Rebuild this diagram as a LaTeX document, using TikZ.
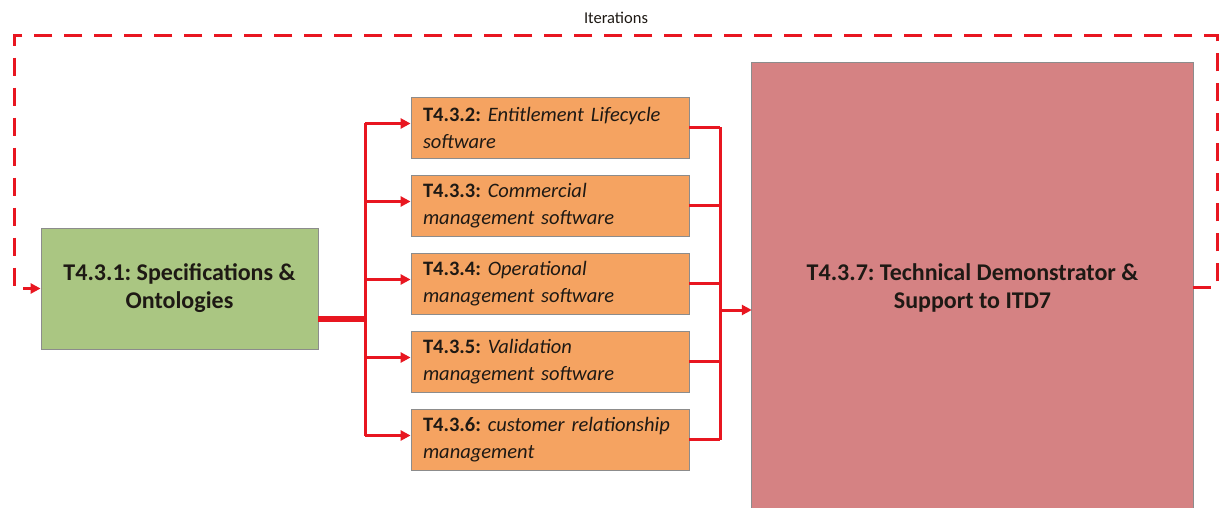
\documentclass[tikz,border=0pt]{standalone}
\usepackage{fontspec}
\setmainfont{Carlito}
\usetikzlibrary{arrows.meta,calc}
\frenchspacing
\definecolor{gfill}{RGB}{170,198,130}
\definecolor{ofill}{RGB}{245,163,97}
\definecolor{rfill}{RGB}{213,130,131}
\definecolor{lred}{RGB}{232,22,32}
\definecolor{bgrey}{RGB}{140,140,140}
\definecolor{txt}{RGB}{30,25,20}
\newcommand\orangefont{\fontsize{20.5}{27}\selectfont\frenchspacing\spaceskip=4.8pt plus 1pt\relax}
\tikzset{
  box/.style={draw=bgrey, line width=0.8pt, inner sep=0pt, text=txt},
  greenbox/.style={box, fill=gfill, minimum width=277pt, minimum height=121pt, align=center,
    font=\fontsize{24}{28}\selectfont\bfseries},
  orangebox/.style={box, fill=ofill, minimum width=278pt, minimum height=61pt, inner xsep=12pt,
    text width=254pt, align=left, font=\orangefont},
  redbox/.style={inner sep=0pt, text=txt, fill=rfill, minimum width=441pt, minimum height=449pt, align=center,
    font=\fontsize{24}{28}\selectfont\bfseries},
  conn/.style={draw=lred, line width=3pt},
  thickconn/.style={draw=lred, line width=6pt},
  arr/.style={conn, -{Triangle[length=10pt,width=10pt]}},
  dashloop/.style={draw=lred, line width=3pt, dash pattern=on 18pt off 12pt},
}
\begin{document}
\begin{tikzpicture}[x=1pt,y=-1pt]
\useasboundingbox (0,0) rectangle (1219,508);
% nodes
\node[greenbox] (g) at (179.5,288.5) {T4.3.1: Specifications \&\\Ontologies};
\node[orangebox] (o1) at (550,127.5) {\textbf{T4.3.2:} \textit{Entitlement Lifecycle}\\\textit{software}};
\node[orangebox] (o2) at (550,205.5) {\textbf{T4.3.3:} \textit{Commercial}\\\textit{management software}};
\node[orangebox] (o3) at (550,283.5) {\textbf{T4.3.4:} \textit{Operational}\\\textit{management software}};
\node[orangebox] (o4) at (550,361.5) {\textbf{T4.3.5:} \textit{Validation}\\\textit{management software}};
\node[orangebox] (o5) at (550,439.5) {\textbf{T4.3.6:} \textit{customer relationship}\\\textit{management}};
\node[redbox] (r) at (972.5,287.5) {T4.3.7: Technical Demonstrator \&\\Support to ITD7};
\draw[bgrey, line width=0.8pt] ([yshift=-20pt]r.south west) -- (r.north west) -- (r.north east) -- ([yshift=-20pt]r.south east);
\node[font=\fontsize{16.5}{18}\selectfont, text=txt] (it) at (616,18) {Iterations};
% coordinates
\coordinate (bus) at (365,0);
\coordinate (rbus) at (720,0);
\coordinate (gout) at ($(g.south east)!0.25!(g.north east)$);
\foreach \i in {1,...,5}{\coordinate (o\i w) at ([yshift=4pt]o\i.west);}
\coordinate (rin) at ([yshift=-22.5pt]r.west);
\coordinate (lt) at (1217,36);
\coordinate (lf) at (14,36);
% fan-out
\draw[thickconn] (gout) -- (bus |- gout);
\draw[conn] (bus |- o1w) -- (bus |- o5w);
\foreach \i in {1,...,5}{\draw[arr] (bus |- o\i w) -- (o\i w);}
% fan-in
\foreach \i in {1,...,5}{\draw[conn] (o\i.east) -- (rbus |- o\i.east);}
\draw[conn] (rbus |- o1.east) -- (rbus |- o5.east);
\draw[arr] (rbus |- rin) -- (rin);
% iteration loop
\draw[dashloop] (r.east) -- (lt |- r.east) -- (lt) -- (lf) -- (lf |- g.west) -- ([xshift=-10pt]g.west);
\draw[lred, -{Triangle[length=10pt,width=10pt]}, line width=3pt] ([xshift=-10.5pt]g.west) -- (g.west);
\end{tikzpicture}
\end{document}
